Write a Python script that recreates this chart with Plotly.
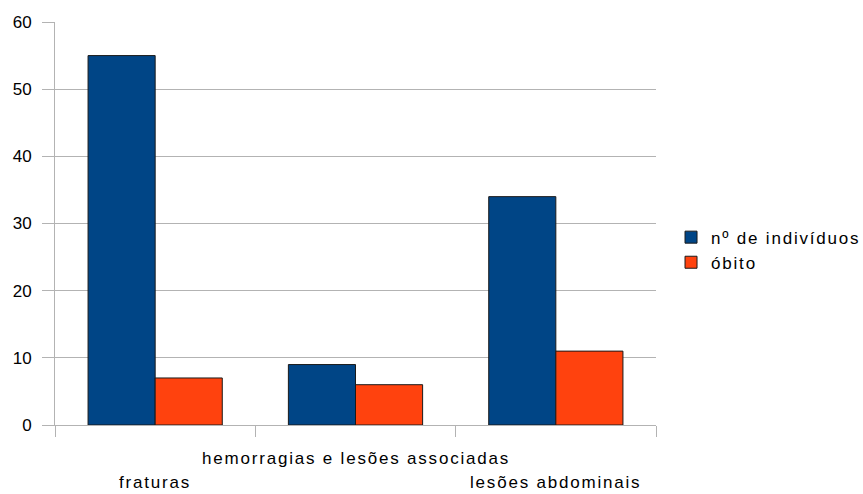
import plotly.graph_objects as go

categories = ["fraturas", "hemorragias e lesões associadas", "lesões abdominais"]
individuos = [55, 9, 34]
obito = [7, 6, 11]
label_rows = [1, 0, 1]  # staggered category label rows (0 = upper, 1 = lower)
y_ticks = [0, 10, 20, 30, 40, 50, 60]
series_names = ["nº de indivíduos", "óbito"]

SP = "letter-spacing:1.8px"
def spaced(t):
    return f'<span style="{SP}">{t}</span>'

font = "Liberation Sans, Arial, sans-serif"
FS = 17

fig = go.Figure()
fig.add_trace(go.Bar(x=categories, y=individuos, name=spaced(series_names[0]),
                     marker=dict(color="#004586", line=dict(color="#1a1a1a", width=1))))
fig.add_trace(go.Bar(x=categories, y=obito, name=spaced(series_names[1]),
                     marker=dict(color="#ff420e", line=dict(color="#1a1a1a", width=1))))

for cat, row in zip(categories, label_rows):
    fig.add_annotation(x=cat, xref="x", yref="paper", y=-0.0819 - 0.0596 * row,
                       text=spaced(cat), showarrow=False, xanchor="center", yanchor="middle",
                       font=dict(family=font, size=FS, color="#000000"))

fig.update_layout(
    width=863, height=494,
    margin=dict(l=55, r=207, t=22, b=69, autoexpand=False),
    paper_bgcolor="white", plot_bgcolor="white",
    barmode="group", bargap=0.33, bargroupgap=0,
    font=dict(family=font, size=FS, color="#000000"),
    legend=dict(x=1.025, y=0.434, xanchor="left", yanchor="middle",
                font=dict(size=FS), tracegroupgap=2,
                bgcolor="rgba(0,0,0,0)"),
    xaxis=dict(tickmode="array", tickvals=categories, showticklabels=False,
               tickson="boundaries", ticks="outside", ticklen=11, tickcolor="#b3b3b3",
               showline=True, linecolor="#b3b3b3", linewidth=1,
               showgrid=False, automargin=False),
    yaxis=dict(range=[0, 60], tickmode="array", tickvals=y_ticks,
               ticktext=[str(v) for v in y_ticks],
               ticks="outside", ticklen=12, tickcolor="#b3b3b3",
               showline=True, linecolor="#b3b3b3", linewidth=1,
               showgrid=True, gridcolor="#b3b3b3", gridwidth=1, zeroline=False,
               tickfont=dict(size=FS, family=font), ticklabelstandoff=7,
               automargin=False),
    showlegend=True,
)
fig.write_html("out.html", config={"displayModeBar": False},
               post_script="document.body.style.margin='0';")
